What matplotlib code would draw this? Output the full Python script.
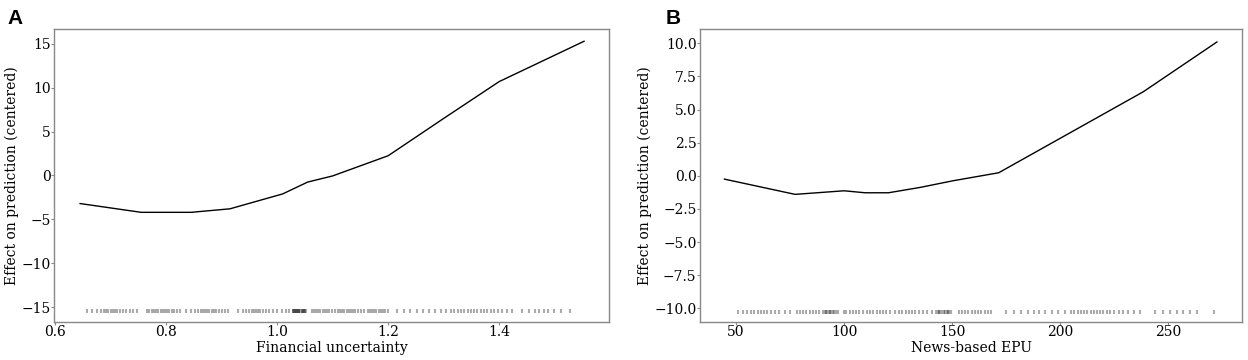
import matplotlib
matplotlib.use("Agg")
import matplotlib.pyplot as plt

# Panel A: financial uncertainty
fin_x = [0.645, 0.755, 0.845, 0.915, 1.010, 1.055, 1.100, 1.200, 1.300, 1.400, 1.553]
fin_y = [-3.2, -4.2, -4.2, -3.8, -2.1, -0.75, -0.05, 2.25, 6.5, 10.7, 15.3]
fin_rug = [
    0.658, 0.666, 0.676, 0.682, 0.688, 0.692, 0.696, 0.700, 0.704, 0.708, 0.712,
    0.716, 0.722, 0.728, 0.734, 0.740, 0.748,
    0.766, 0.770, 0.774, 0.778, 0.782, 0.786, 0.790, 0.794, 0.798, 0.802, 0.806,
    0.810, 0.815, 0.820, 0.825,
    0.836, 0.844, 0.852, 0.858, 0.862, 0.866, 0.870, 0.874, 0.878, 0.882, 0.886,
    0.890, 0.895, 0.900, 0.906, 0.912,
    0.930, 0.938, 0.944, 0.950, 0.954, 0.958, 0.962, 0.966, 0.970, 0.975, 0.980,
    0.986, 0.992, 1.000, 1.008, 1.016, 1.022,
    1.028, 1.030, 1.032, 1.034, 1.036, 1.038, 1.040, 1.042, 1.044, 1.046, 1.048,
    1.050, 1.052, 1.028, 1.032, 1.036, 1.040, 1.044, 1.048,
    1.062, 1.066, 1.070, 1.074, 1.078, 1.082, 1.086, 1.090, 1.094, 1.098,
    1.105, 1.109, 1.113, 1.117, 1.121, 1.125, 1.129, 1.133, 1.137, 1.141, 1.146,
    1.151, 1.156,
    1.163, 1.167, 1.171, 1.175, 1.179, 1.183, 1.187, 1.191, 1.195, 1.199,
    1.216, 1.228, 1.240, 1.252, 1.262, 1.274, 1.284, 1.296, 1.305,
    1.313, 1.319, 1.325, 1.331, 1.337, 1.343, 1.349, 1.355, 1.361, 1.367, 1.373,
    1.379, 1.385, 1.391, 1.398, 1.406, 1.414, 1.424,
    1.442, 1.454, 1.464, 1.472, 1.480, 1.488, 1.498, 1.512, 1.528,
]

# Panel B: news-based EPU
epu_x = [44.6, 77.3, 100.0, 109.7, 120.5, 135.0, 150.5, 171.5, 238.4, 272.5]
epu_y = [-0.25, -1.4, -1.13, -1.28, -1.28, -0.88, -0.37, 0.23, 6.34, 10.1]
epu_rug = [
    51.0, 53.0, 55.0, 57.0, 58.5, 60.0, 61.5, 63.0, 64.5, 66.0, 68.0, 70.0, 72.5,
    75.0,
    78.0, 79.5, 81.0, 82.5, 84.0, 85.5, 87.0, 88.5,
    90.0, 91.0, 92.0, 93.0, 94.0, 95.0, 96.0, 97.0, 91.5, 93.5, 95.5,
    100.0, 101.0, 102.5, 104.0, 105.5, 107.0, 108.5,
    110.5, 112.0, 113.5, 115.0, 116.5, 118.0, 119.5,
    121.0, 123.5,
    125.5, 127.0, 128.5, 130.0, 131.5, 133.0, 134.5,
    136.5, 138.5, 140.5, 142.5,
    143.5, 144.5, 145.5, 146.5, 147.5, 148.5, 149.5, 144.0, 146.0, 148.0,
    153.0, 154.5, 156.0, 157.5, 159.0, 160.5, 162.0, 163.5, 165.0, 166.5, 168.0,
    175.0, 178.5, 182.0, 185.0, 188.0, 190.0, 193.0, 196.0, 199.0, 202.0,
    205.0, 206.5, 208.0, 209.5, 211.0, 212.5, 214.0, 215.5, 217.0, 218.5, 220.0,
    221.5, 223.0, 225.0, 227.0,
    229.0, 231.5, 234.0, 237.0,
    244.0, 247.5, 251.0, 254.0, 257.0, 260.0, 263.5,
    271.0,
]

plt.rcParams["font.family"] = "DejaVu Serif"
plt.rcParams["font.size"] = 10

fig = plt.figure(figsize=(12.48, 3.6), dpi=100)
ax1 = fig.add_axes([0.0433, 0.1056, 0.4447, 0.8139])
ax2 = fig.add_axes([0.5609, 0.1056, 0.4343, 0.8139])

panels = [
    (ax1, fin_x, fin_y, fin_rug, "Financial uncertainty", (-16.7, 16.7), -15.5),
    (ax2, epu_x, epu_y, epu_rug, "News-based EPU", (-11.03, 11.08), -10.27),
]

for ax, x, y, rug, xlabel, ylim, rug_y in panels:
    ax.plot(x, y, color="black", linewidth=1.0)
    ax.plot(rug, [rug_y] * len(rug), linestyle="none", marker="|",
            markersize=3.5, markeredgewidth=1.5, color="black", alpha=0.33)
    ax.set_ylim(*ylim)
    ax.set_xlabel(xlabel, labelpad=1)
    ax.set_ylabel("Effect on prediction (centered)", labelpad=1.5)
    for s in ax.spines.values():
        s.set_color("#888888")
        s.set_linewidth(1.0)
    ax.tick_params(colors="#888888", labelcolor="black", length=2, width=0.8,
                   pad=0.5)

ax1.set_xlim(0.598, 1.598)
ax1.set_yticks([-15, -10, -5, 0, 5, 10, 15])
ax2.set_xlim(33.3, 284.1)
ax2.set_yticks([-10, -7.5, -5, -2.5, 0, 2.5, 5, 7.5, 10])

fig.text(0.006, 0.975, "A", fontsize=15, fontweight="bold",
         family="Liberation Sans", va="top", ha="left")
fig.text(0.533, 0.975, "B", fontsize=15, fontweight="bold",
         family="Liberation Sans", va="top", ha="left")

fig.savefig("out.png", dpi=100)
